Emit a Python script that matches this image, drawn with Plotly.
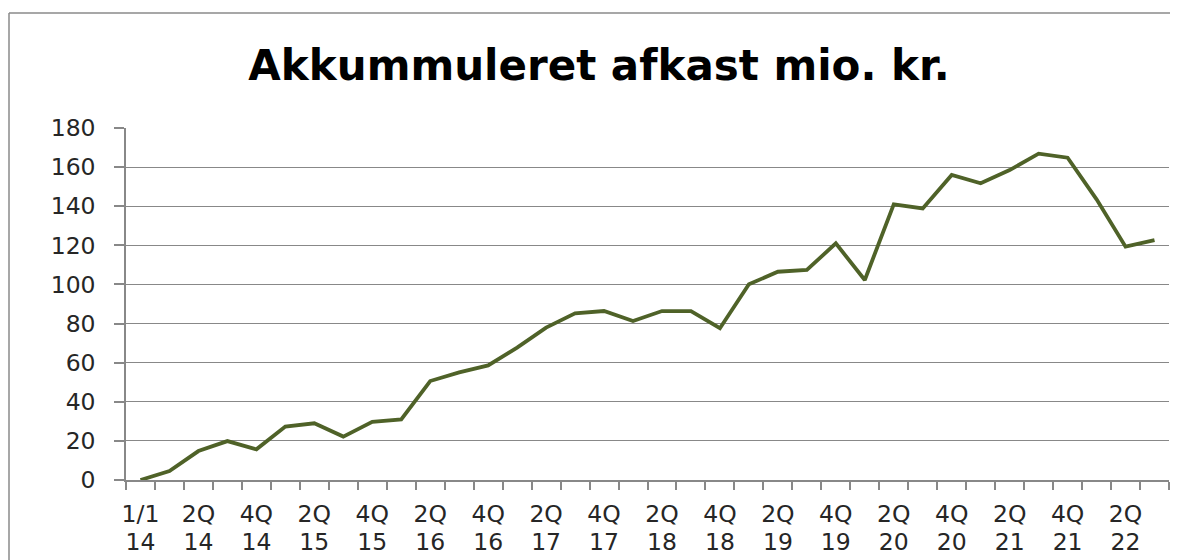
import plotly.graph_objects as go

quarters = ["1/1 14", "1Q 14", "2Q 14", "3Q 14", "4Q 14",
            "1Q 15", "2Q 15", "3Q 15", "4Q 15",
            "1Q 16", "2Q 16", "3Q 16", "4Q 16",
            "1Q 17", "2Q 17", "3Q 17", "4Q 17",
            "1Q 18", "2Q 18", "3Q 18", "4Q 18",
            "1Q 19", "2Q 19", "3Q 19", "4Q 19",
            "1Q 20", "2Q 20", "3Q 20", "4Q 20",
            "1Q 21", "2Q 21", "3Q 21", "4Q 21",
            "1Q 22", "2Q 22", "3Q 22"]

afkast = [0, 4.6, 14.8, 19.9, 15.7,
          27.3, 29.0, 22.2, 29.7,
          31.0, 50.6, 55.0, 58.6,
          67.7, 77.9, 85.2, 86.4,
          81.3, 86.4, 86.4, 77.6,
          100.1, 106.5, 107.4, 121.0,
          102.3, 141.0, 138.9, 156.0,
          151.7, 158.5, 166.9, 164.8,
          143.5, 119.3, 122.7]

y_ticks = [0, 20, 40, 60, 80, 100, 120, 140, 160, 180]

title = "Akkummuleret afkast mio. kr."

idx = list(range(len(quarters)))
label_idx = idx[::2]
label_top = [quarters[i].split(" ")[0] for i in label_idx]
label_bottom = [quarters[i].split(" ")[1] for i in label_idx]
x_range = [-0.5, len(quarters) - 0.5]

grid = "#888888"
font = "'DejaVu Sans', sans-serif"

# page body has an 8px margin, so the plot is placed 8px up/left of the target
L, T, W, H = 118, 120, 1043, 352

fig = go.Figure()
fig.add_trace(go.Scatter(x=idx, y=afkast, mode="lines",
                         line={"color": "#4f6228", "width": 3.8},
                         hoverinfo="skip", showlegend=False))
# invisible trace to activate the second x axis (year row of labels)
fig.add_trace(go.Scatter(x=idx, y=afkast, xaxis="x2", mode="lines",
                         line={"width": 0}, opacity=0,
                         hoverinfo="skip", showlegend=False))

fig.update_layout(
    width=1178, height=560,
    margin={"l": L, "r": 1178 - L - W, "t": T, "b": 560 - T - H},
    paper_bgcolor="white", plot_bgcolor="white",
    font={"family": font, "size": 23.5, "color": "#262626"},
    title={"text": "<b>" + title + "</b>", "x": 591 / 1178, "xref": "container",
           "xanchor": "center", "y": 1 - 57 / 560, "yref": "container", "yanchor": "middle",
           "font": {"family": font, "size": 42, "color": "#000000"}},
    xaxis={"range": x_range,
           "tickmode": "array", "tickvals": label_idx, "ticktext": label_top,
           "ticks": "", "showgrid": False, "zeroline": False,
           "showline": True, "linecolor": grid, "linewidth": 1.5,
           "ticklabelstandoff": 12,
           "minor": {"tick0": -0.5, "dtick": 1, "ticks": "outside", "ticklen": 8,
                     "tickcolor": grid, "tickwidth": 1.5, "showgrid": False}},
    xaxis2={"overlaying": "x", "side": "bottom", "anchor": "y",
            "range": x_range,
            "tickmode": "array", "tickvals": label_idx, "ticktext": label_bottom,
            "ticks": "", "showgrid": False, "zeroline": False, "showline": False,
            "ticklabelstandoff": 45},
    yaxis={"range": [0, 180], "tickmode": "array", "tickvals": y_ticks,
           "ticks": "outside", "ticklen": 10, "tickcolor": grid, "tickwidth": 1.5,
           "showgrid": True, "gridcolor": grid, "gridwidth": 1.3,
           "zeroline": False, "showline": True, "linecolor": grid, "linewidth": 1.5,
           "ticklabelstandoff": 14},
)

# outer chart border (only left and top edges are visible)
bx = (1 - L) / W
by = (T + H - 5) / H
fig.add_shape(type="line", xref="paper", yref="paper", x0=bx, x1=bx, y0=by, y1=-0.4,
              line={"color": "#8a8a8a", "width": 1.5})
fig.add_shape(type="line", xref="paper", yref="paper", x0=bx, x1=1.05, y0=by, y1=by,
              line={"color": "#8a8a8a", "width": 1.5})

fig.write_html("out.html")
